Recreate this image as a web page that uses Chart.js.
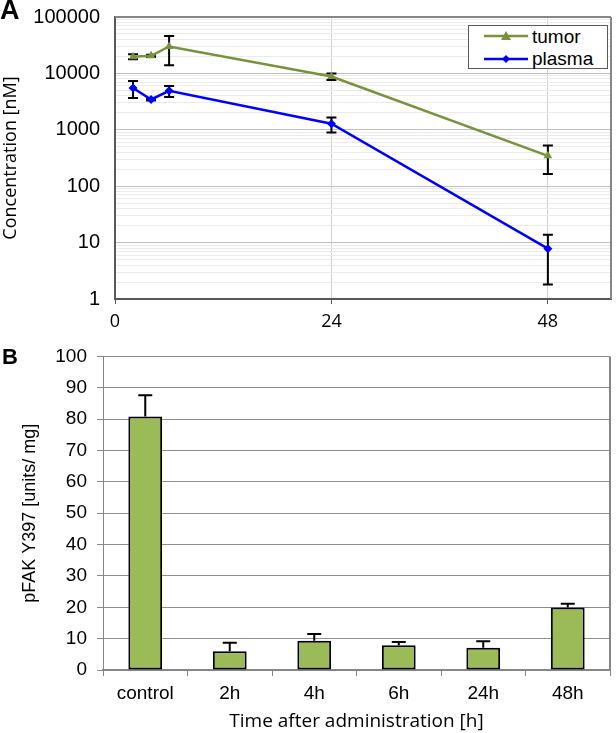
<!DOCTYPE html>
<html><head><meta charset="utf-8">
<script src="https://cdn.jsdelivr.net/npm/chart.js@4"></script>
<style>
html,body{margin:0;padding:0;background:#fff;}
#wrap{position:relative;width:616px;height:733px;overflow:hidden;background:#fff;}
#ca{position:absolute;left:0;top:-10px;}
#cb{position:absolute;left:0;top:335px;}
.panel{position:absolute;font-family:"Liberation Sans",Arial,sans-serif;font-weight:bold;line-height:1;color:#000;}
#legend{position:absolute;left:468px;top:25px;width:138px;height:42px;border:1px solid #595959;background:#fff;font-family:"Liberation Sans",Arial,sans-serif;font-size:19px;color:#000;}
#legend svg{position:absolute;left:15px;}
#legend span{position:absolute;left:63px;line-height:1;}
</style></head>
<body>
<div id="wrap">
  <canvas id="ca" width="616" height="345"></canvas>
  <canvas id="cb" width="616" height="398"></canvas>
  <div class="panel" style="left:0;top:-3px;font-size:27px;">A</div>
  <div class="panel" style="left:2px;top:346px;font-size:22px;">B</div>
  <div id="legend">
    <svg style="top:4px" width="44" height="12"><line x1="0" y1="6" x2="44" y2="6" stroke="#77933C" stroke-width="2.5"/><polygon points="22,1 27,10 17,10" fill="#77933C"/></svg>
    <span style="top:1px">tumor</span>
    <svg style="top:27px" width="44" height="12"><line x1="0" y1="6" x2="44" y2="6" stroke="#0000FF" stroke-width="2.5"/><polygon points="22,2 26,6 22,10 18,6" fill="#0000FF"/></svg>
    <span style="top:23px">plasma</span>
  </div>
</div>
<script>
// ---- Panel A data ----
const timesA = [2, 4, 6, 24, 48];
const tumor = [19800, 20500, 30000, 8800, 345];
const tumorSD = [2000, 1000, 16000, 1150, 180];
const plasma = [5500, 3450, 4900, 1280, 7.8];
const plasmaSD = [1850, 150, 1100, 380, 6];
const xTicksA = [0, 24, 48];
const yLabelsA = [1, 10, 100, 1000, 10000, 100000];

// ---- Panel B data ----
const catsB = ['control', '2h', '4h', '6h', '24h', '48h'];
const pfak = [80.8, 6.0, 9.3, 7.9, 7.1, 19.9];
const pfakErr = [6.8, 2.7, 2.2, 1.0, 2.1, 1.2];

function drawErr(chart, both, cap) {
  const ctx = chart.ctx; const ys = chart.scales.y;
  chart.data.datasets.forEach((ds, i) => {
    if (!ds.errors) return;
    const meta = chart.getDatasetMeta(i);
    meta.data.forEach((el, j) => {
      const d = ds.data[j];
      const val = (typeof d === 'object') ? d.y : d;
      const e = ds.errors[j];
      const yt = ys.getPixelForValue(val + e);
      const yb = both ? ys.getPixelForValue(Math.max(val - e, ys.min)) : ys.getPixelForValue(val);
      const x = el.x;
      ctx.save();
      ctx.strokeStyle = '#000'; ctx.lineWidth = 2;
      ctx.beginPath();
      ctx.moveTo(x, yt); ctx.lineTo(x, yb);
      ctx.moveTo(x - cap, yt); ctx.lineTo(x + cap, yt);
      if (both) { ctx.moveTo(x - cap, yb); ctx.lineTo(x + cap, yb); }
      ctx.stroke();
      ctx.restore();
    });
  });
}
function drawFrame(chart, top) {
  const ctx = chart.ctx; const a = chart.chartArea;
  ctx.save();
  ctx.strokeStyle = '#868686'; ctx.lineWidth = 2;
  ctx.beginPath();
  if (top) { ctx.moveTo(a.left, a.top); ctx.lineTo(a.right, a.top); }
  ctx.moveTo(a.right, a.top); ctx.lineTo(a.right, a.bottom);
  ctx.stroke();
  ctx.restore();
}

new Chart(document.getElementById('ca'), {
  type: 'line',
  data: {
    datasets: [
      { label: 'tumor', data: timesA.map((t, i) => ({ x: t, y: tumor[i] })), errors: tumorSD,
        borderColor: '#77933C', backgroundColor: '#77933C', borderWidth: 2.5,
        pointStyle: 'triangle', pointRadius: 5, pointBorderWidth: 0, tension: 0 },
      { label: 'plasma', data: timesA.map((t, i) => ({ x: t, y: plasma[i] })), errors: plasmaSD,
        borderColor: '#0000FF', backgroundColor: '#0000FF', borderWidth: 2.5,
        pointStyle: 'rectRot', pointRadius: 4.5, pointBorderWidth: 0, tension: 0 }
    ]
  },
  options: {
    responsive: false, animation: false, devicePixelRatio: 1,
    layout: { padding: { top: 5, right: 1, left: 0, bottom: 0 } },
    plugins: { legend: { display: false }, tooltip: { enabled: false } },
    scales: {
      x: {
        type: 'linear', min: 0, max: 55,
        afterBuildTicks(s) { s.ticks = xTicksA.map(v => ({ value: v })); },
        afterFit(s) { s.height = 36; },
        ticks: { padding: 7, autoSkip: false, maxRotation: 0, font: { family: 'Open Sans', size: 18 }, color: '#000' },
        grid: { color: (c) => (c.tick && c.tick.value === 0) ? 'rgba(0,0,0,0)' : '#d0d0d0', tickColor: '#595959', tickLength: 5, lineWidth: 1 },
        border: { color: '#595959', width: 2 }
      },
      y: {
        type: 'logarithmic', min: 1, max: 100000,
        afterBuildTicks(s) {
          const t = [];
          for (let k = 0; k < yLabelsA.length; k++) {
            t.push({ value: yLabelsA[k] });
            if (k < yLabelsA.length - 1) for (let m = 2; m <= 9; m++) t.push({ value: yLabelsA[k] * m });
          }
          s.ticks = t;
        },
        afterFit(s) { s.width = 115; },
        ticks: { autoSkip: false, padding: 15, font: { family: 'Liberation Sans', size: 20 }, color: '#000',
          callback: (v) => yLabelsA.includes(v) ? String(v) : '' },
        grid: { drawTicks: false, color: (c) => (c.tick && yLabelsA.includes(c.tick.value)) ? '#bfbfbf' : '#ebebeb', lineWidth: 1 },
        border: { color: '#595959', width: 2 },
        title: { display: true, text: 'Concentration [nM]', font: { family: 'Open Sans', size: 18 }, color: '#000', padding: { top: 0, bottom: 0 } }
      }
    }
  },
  plugins: [{ id: 'errA', beforeDatasetsDraw(chart) { drawFrame(chart, true); drawErr(chart, true, 5); } }]
});

new Chart(document.getElementById('cb'), {
  type: 'bar',
  data: {
    labels: catsB,
    datasets: [{ data: pfak, errors: pfakErr, backgroundColor: '#9BBB59', borderColor: '#000', borderWidth: 2,
      borderSkipped: false, barPercentage: 0.4, categoryPercentage: 1 }]
  },
  options: {
    responsive: false, animation: false, devicePixelRatio: 1,
    layout: { padding: { top: 19, right: 6, left: 0, bottom: 0 } },
    plugins: { legend: { display: false }, tooltip: { enabled: false } },
    scales: {
      x: {
        afterFit(s) { s.height = 63; },
        grid: { offset: true, drawOnChartArea: false, drawTicks: true, tickLength: 6, tickColor: '#868686' },
        border: { color: '#868686', width: 2 },
        ticks: { padding: 6, font: { family: 'Liberation Sans', size: 19 }, color: '#000', maxRotation: 0 },
        title: { display: true, text: 'Time after administration [h]', font: { family: 'Open Sans', size: 19 }, color: '#000', padding: { top: 0, bottom: 0 } }
      },
      y: {
        min: 0, max: 100,
        afterFit(s) { s.width = 103; },
        ticks: { stepSize: 10, padding: 10, font: { family: 'Liberation Sans', size: 19 }, color: '#000' },
        grid: { color: '#8c8c8c', tickLength: 6, tickColor: '#8c8c8c', lineWidth: 1 },
        border: { color: '#868686', width: 1 },
        title: { display: true, text: 'pFAK Y397 [units/ mg]', font: { family: 'Liberation Sans', size: 18 }, color: '#000', padding: { top: 19, bottom: 0 } }
      }
    }
  },
  plugins: [{ id: 'errB', beforeDatasetsDraw(chart) { drawFrame(chart, false); }, afterDatasetsDraw(chart) { drawErr(chart, false, 7); } }]
});
</script>
</body></html>
